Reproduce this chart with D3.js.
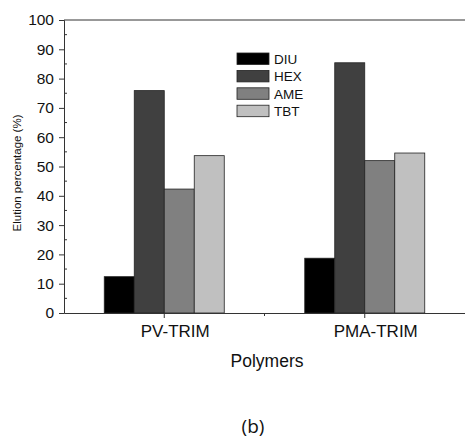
<!DOCTYPE html>
<html lang="en">
<head>
<meta charset="UTF-8">
<title>Elution percentage</title>
<script src="https://d3js.org/d3.v7.min.js"></script>
<style>
  body { margin: 0; background: #fff; }
  text { font-family: "Liberation Sans", Arial, sans-serif; fill: #111; }
</style>
</head>
<body>
<div id="chart"></div>
<script>
// data
var polymers = ["PV-TRIM", "PMA-TRIM"];
var compounds = ["DIU", "HEX", "AME", "TBT"];
var DIU = [12.4, 18.7];
var HEX = [75.9, 85.4];
var AME = [42.3, 52.0];
var TBT = [53.7, 54.6];
var yTicks = [0, 10, 20, 30, 40, 50, 60, 70, 80, 90, 100];
var colors = ["#000000", "#404040", "#808080", "#c0c0c0"];

var series = { DIU: DIU, HEX: HEX, AME: AME, TBT: TBT };

var W = 465, H = 438;
// plot area edges (note: "top" is reserved on window)
var pLeft = 64, pRight = 465, pTop = 20, pBottom = 313;

var svg = d3.select("#chart").append("svg")
  .attr("width", W).attr("height", H);

var x = d3.scaleBand().domain(polymers).range([pLeft, pRight]).padding(0);
var xs = d3.scaleBand().domain(compounds).range([-60, 60]).padding(0);
var y = d3.scaleLinear().domain([0, 100]).range([pBottom, pTop]);
var color = d3.scaleOrdinal().domain(compounds).range(colors);

// bars
compounds.forEach(function(c) {
  svg.append("g").selectAll("rect")
    .data(series[c])
    .enter().append("rect")
    .attr("x", function(d, i) { return x(polymers[i]) + x.bandwidth() / 2 + xs(c); })
    .attr("y", function(d) { return y(d); })
    .attr("width", xs.bandwidth())
    .attr("height", function(d) { return y(0) - y(d); })
    .attr("fill", color(c))
    .attr("stroke", "#222")
    .attr("stroke-width", 0.8);
});

// top frame line
svg.append("line")
  .attr("x1", pLeft).attr("x2", pRight).attr("y1", pTop).attr("y2", pTop)
  .attr("stroke", "#333").attr("stroke-width", 1);

// y axis
var yAxis = svg.append("g")
  .attr("transform", "translate(" + pLeft + ",0)")
  .call(d3.axisLeft(y).tickValues(yTicks).tickSize(5).tickPadding(5));
yAxis.select(".domain").attr("stroke", "#333");
yAxis.selectAll(".tick line").attr("stroke", "#333");
yAxis.selectAll("text").style("font-size", "15.5px").attr("fill", "#111");

// y minor ticks
svg.append("g").selectAll("line")
  .data(d3.range(5, 100, 10))
  .enter().append("line")
  .attr("x1", pLeft).attr("x2", pLeft + 3)
  .attr("y1", function(d) { return y(d); })
  .attr("y2", function(d) { return y(d); })
  .attr("stroke", "#333");

// x axis
var xAxis = svg.append("g")
  .attr("transform", "translate(0," + pBottom + ")")
  .call(d3.axisBottom(x).tickSize(5).tickPadding(7).tickSizeOuter(0));
xAxis.select(".domain").attr("stroke", "#333");
xAxis.selectAll(".tick line").attr("stroke", "#333");
xAxis.selectAll("text")
  .attr("dx", 11)
  .style("font-size", "17px").attr("fill", "#111");

// x minor tick at band boundary
svg.append("line")
  .attr("x1", x(polymers[1])).attr("x2", x(polymers[1]))
  .attr("y1", pBottom).attr("y2", pBottom + 3)
  .attr("stroke", "#333");

// axis titles
svg.append("text")
  .attr("transform", "translate(21,173) rotate(-90)")
  .attr("text-anchor", "middle")
  .style("font-size", "11.5px")
  .text("Elution percentage (%)");

svg.append("text")
  .attr("x", 267).attr("y", 367)
  .attr("text-anchor", "middle")
  .style("font-size", "17.5px")
  .text("Polymers");

svg.append("text")
  .attr("x", 253).attr("y", 433)
  .attr("text-anchor", "middle")
  .style("font-family", "'Open Sans', sans-serif")
  .style("font-size", "19px")
  .text("(b)");

// legend
var legend = svg.append("g").attr("transform", "translate(237,53)");
var items = legend.selectAll("g")
  .data(compounds)
  .enter().append("g")
  .attr("transform", function(d, i) { return "translate(0," + (i * 17.4) + ")"; });
items.append("rect")
  .attr("width", 32).attr("height", 11.5)
  .attr("fill", function(d) { return color(d); })
  .attr("stroke", "#222").attr("stroke-width", 0.8);
items.append("text")
  .attr("x", 37).attr("y", 11)
  .style("font-size", "13.5px")
  .text(function(d) { return d; });
</script>
</body>
</html>
